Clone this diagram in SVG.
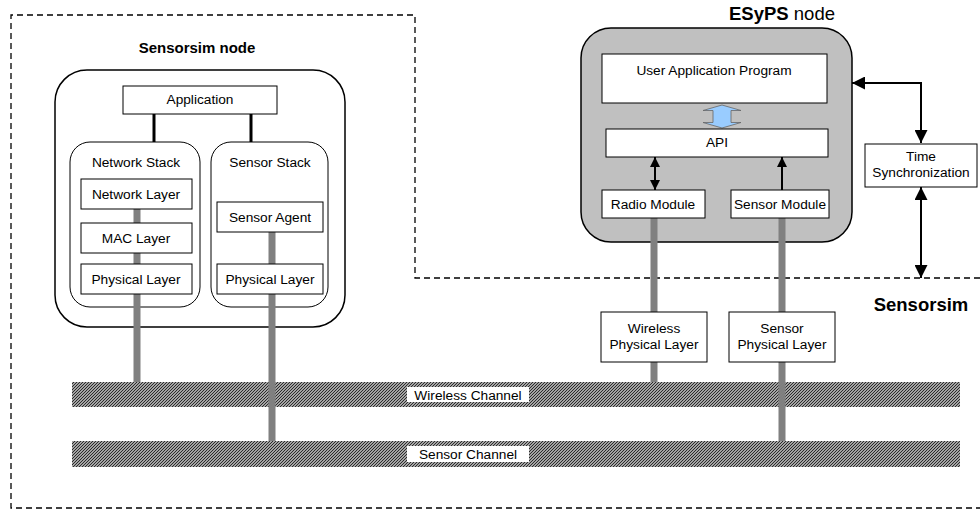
<svg xmlns="http://www.w3.org/2000/svg" width="980" height="510" viewBox="0 0 980 510">
<style>
text{font-family:"Liberation Sans",Arial,sans-serif;font-size:13.7px;fill:#000;text-anchor:middle}
.title{font-weight:bold;font-size:15px}
.big{font-size:18.5px}
.b{font-weight:bold}
.box{fill:#fff;stroke:#000;stroke-width:1}
.cont{fill:#fff;stroke:#000;stroke-width:1}
.outer{stroke:#000;stroke-width:1.5}
.gray{stroke:#808080;stroke-width:7;fill:none}
.blk{stroke:#000;stroke-width:3;fill:none}
.arr{stroke:#000;stroke-width:2;fill:none}
</style>
<defs>
<pattern id="hatch" patternUnits="userSpaceOnUse" width="3" height="3">
<rect width="3" height="3" fill="#d8d8d8"/>
<path d="M-1,1 L1,-1 M0,3 L3,0 M2,4 L4,2" stroke="#222" stroke-width="1.1"/>
</pattern>
<marker id="ah" viewBox="0 0 10 10" refX="10" refY="5" markerWidth="10" markerHeight="10" markerUnits="userSpaceOnUse" orient="auto-start-reverse">
<path d="M0,0 L10,5 L0,10 z" fill="#000"/>
</marker>
<marker id="ahl" viewBox="0 0 12 12" refX="12" refY="6" markerWidth="13" markerHeight="13" markerUnits="userSpaceOnUse" orient="auto-start-reverse">
<path d="M0,0 L12,6 L0,12 z" fill="#000"/>
</marker>
</defs>
<rect width="980" height="510" fill="#fff"/>

<g id="sensorsim-boundary">
<path d="M980,278 L415,278 L415,15 L11,15 L11,508 L980,508" fill="none" stroke="#000" stroke-width="1.3" stroke-dasharray="6 4"/>
<text class="b big" x="921" y="311">Sensorsim</text>
</g>

<g id="sensorsim-node">
<rect class="outer" x="55" y="70" width="290" height="257" rx="32" fill="#fff"/>
<text class="title" x="197" y="53">Sensorsim node</text>
</g>
<g id="network-stack">
<rect class="cont" x="70" y="142" width="130" height="165" rx="20"/>
<text x="136" y="167">Network Stack</text>
</g>
<g id="sensor-stack">
<rect class="cont" x="211" y="142" width="117" height="165" rx="20"/>
<text x="270" y="167">Sensor Stack</text>
</g>

<g id="esyps-node">
<rect class="outer" x="581" y="28" width="271" height="214" rx="30" fill="#c0c0c0"/>
<text x="782" y="20" class="big"><tspan class="b">ESyPS</tspan> node</text>
</g>

<g id="wireless-channel">
<rect x="72" y="382" width="888" height="25" fill="url(#hatch)"/>
<rect x="407" y="387" width="122" height="15" fill="#fff"/>
<text x="468" y="399.5">Wireless Channel</text>
</g>
<g id="sensor-channel">
<rect x="72" y="441" width="888" height="26" fill="url(#hatch)"/>
<rect x="407" y="446" width="122" height="16" fill="#fff"/>
<text x="468" y="458.5">Sensor Channel</text>
</g>

<g id="connectors">
<path class="gray" d="M137,209 L137,382"/>
<path class="gray" d="M272,232 L272,441"/>
<path class="gray" d="M654,218 L654,382"/>
<path class="gray" d="M782,218 L782,441"/>
<path class="blk" d="M154,114 L154,142"/>
<path class="blk" d="M251,114 L251,142"/>
<path class="arr" d="M655,157 L655,190" marker-start="url(#ah)" marker-end="url(#ah)"/>
<path class="arr" d="M782,190 L782,157" marker-end="url(#ah)"/>
<path class="arr" d="M921,143 L921,83 L852,83" marker-start="url(#ahl)" marker-end="url(#ahl)"/>
<path class="arr" d="M921,187 L921,278" marker-start="url(#ahl)" marker-end="url(#ahl)"/>
<polygon points="722,105 703,110.5 713,110.5 713,122.5 703,122.5 722,128 741,122.5 731,122.5 731,110.5 741,110.5" fill="#99ccff" stroke="#666" stroke-width="0.8"/>
</g>

<g id="application">
<rect class="box" x="123" y="86" width="154" height="28"/>
<text x="200" y="104">Application</text>
</g>
<g id="network-layer">
<rect class="box" x="81" y="179" width="111" height="30"/>
<text x="136" y="199">Network Layer</text>
</g>
<g id="mac-layer">
<rect class="box" x="81" y="223" width="111" height="30"/>
<text x="136" y="243">MAC Layer</text>
</g>
<g id="physical-layer-net">
<rect class="box" x="81" y="264" width="111" height="30"/>
<text x="136" y="284">Physical Layer</text>
</g>
<g id="sensor-agent">
<rect class="box" x="217" y="202" width="106" height="30"/>
<text x="270" y="222">Sensor Agent</text>
</g>
<g id="physical-layer-sensor">
<rect class="box" x="217" y="264" width="106" height="30"/>
<text x="270" y="284">Physical Layer</text>
</g>

<g id="user-application-program">
<rect class="box" x="602" y="54" width="225" height="49"/>
<text x="714" y="75">User Application Program</text>
</g>
<g id="api">
<rect class="box" x="606" y="129" width="222" height="28"/>
<text x="717" y="147">API</text>
</g>
<g id="radio-module">
<rect class="box" x="602" y="190" width="103" height="28"/>
<text x="653" y="208.5">Radio Module</text>
</g>
<g id="sensor-module">
<rect class="box" x="731" y="190" width="98" height="28"/>
<text x="780" y="208.5">Sensor Module</text>
</g>
<g id="time-synchronization">
<rect class="box" x="865" y="144" width="112" height="43"/>
<text x="921" y="161">Time</text>
<text x="921" y="177">Synchronization</text>
</g>
<g id="wireless-physical-layer">
<rect class="box" x="601" y="312" width="106" height="50"/>
<text x="654" y="333">Wireless</text>
<text x="654" y="349">Physical Layer</text>
</g>
<g id="sensor-physical-layer">
<rect class="box" x="729" y="312" width="106" height="50"/>
<text x="782" y="333">Sensor</text>
<text x="782" y="349">Physical Layer</text>
</g>
</svg>
